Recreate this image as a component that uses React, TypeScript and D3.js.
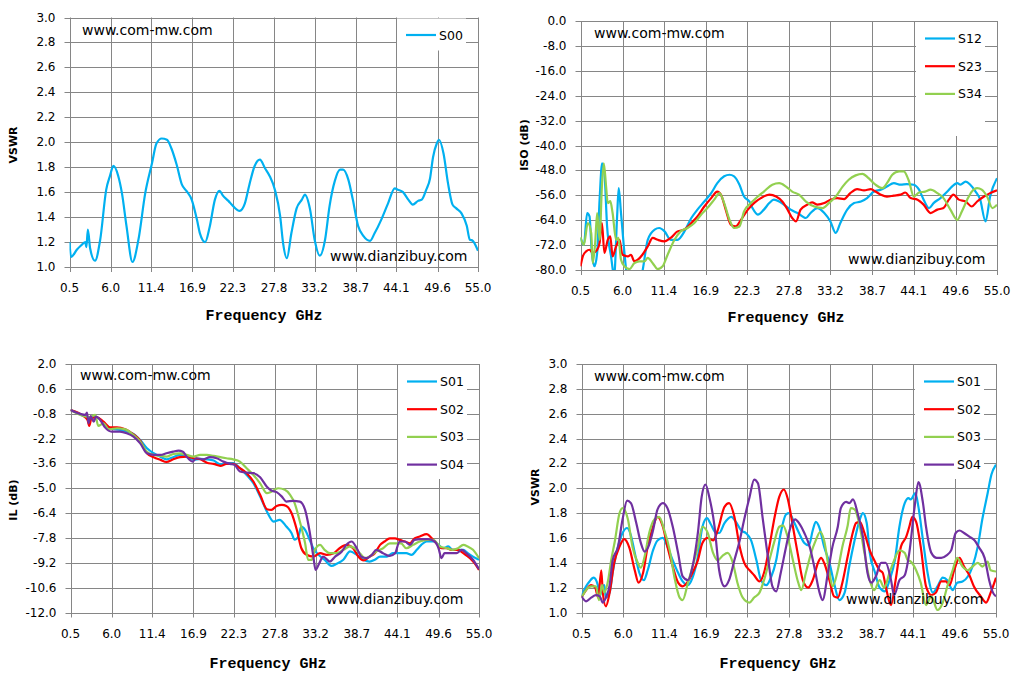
import React from "react";
import * as d3 from "d3";

type Pt = [number, number];

const FREQ_TICKS = ["0.5", "6.0", "11.4", "16.9", "22.3", "27.8", "33.2", "38.7", "44.1", "49.6", "55.0"];
const VSWR_TICKS = [1.0, 1.2, 1.4, 1.6, 1.8, 2.0, 2.2, 2.4, 2.6, 2.8, 3.0];
const ISO_TICKS = [-80, -72, -64, -56, -48, -40, -32, -24, -16, -8, 0];
const IL_TICKS = [-12.0, -10.6, -9.2, -7.8, -6.4, -5.0, -3.6, -2.2, -0.8, 0.6, 2.0];

const S00: Pt[] = [[0.5,1.2],[0.7,1.08],[1.5,1.14],[2.0,1.17],[2.6,1.2],[2.75,1.16],[2.95,1.3],[3.25,1.15],[3.9,1.05],[4.6,1.22],[5.4,1.62],[5.9,1.73],[6.36,1.81],[7.0,1.73],[7.5,1.59],[8.1,1.33],[8.9,1.04],[9.7,1.22],[10.6,1.59],[11.5,1.83],[12.1,1.99],[12.8,2.03],[13.5,2.02],[14.1,1.95],[14.8,1.82],[15.5,1.66],[16.1,1.61],[16.8,1.54],[17.5,1.38],[17.9,1.27],[18.6,1.2],[19.2,1.32],[19.9,1.54],[20.5,1.61],[21.0,1.57],[21.7,1.53],[22.3,1.49],[23.2,1.45],[23.9,1.51],[24.5,1.66],[25.2,1.81],[25.9,1.86],[26.6,1.79],[27.2,1.73],[27.9,1.62],[28.6,1.41],[29.0,1.19],[29.5,1.07],[30.1,1.27],[30.8,1.47],[31.5,1.54],[31.9,1.58],[32.6,1.46],[33.2,1.22],[33.9,1.09],[34.6,1.22],[35.2,1.49],[35.9,1.69],[36.6,1.78],[37.0,1.78],[37.7,1.7],[38.3,1.54],[39.0,1.33],[39.7,1.25],[40.6,1.21],[41.2,1.27],[42.1,1.38],[43.0,1.51],[43.9,1.63],[44.3,1.62],[45.0,1.6],[45.7,1.54],[46.3,1.5],[47.0,1.53],[47.5,1.54],[48.1,1.62],[48.6,1.71],[49.0,1.88],[49.5,1.99],[49.8,2.02],[50.4,1.91],[51.0,1.67],[51.6,1.5],[52.1,1.47],[52.8,1.43],[53.5,1.33],[53.9,1.22],[54.3,1.21],[55.0,1.13]];

const ISO_S12: Pt[] = [[0.5,-69.7],[0.94,-71.9],[1.37,-61.7],[1.68,-62.8],[1.98,-74.5],[2.33,-78.8],[2.68,-74.5],[3.0,-57.4],[3.33,-45.7],[3.63,-48.9],[3.98,-66],[4.5,-75.6],[4.9,-82],[5.29,-62.8],[5.5,-53.7],[5.8,-61.7],[6.25,-74.5],[6.6,-82],[7.5,-86],[8.3,-84],[8.64,-80],[9.3,-70.3],[10.2,-67],[10.8,-66.5],[11.5,-67.6],[12.3,-70.3],[13.2,-70.3],[14.1,-67.6],[15.0,-63.3],[15.8,-60.6],[16.7,-58],[17.6,-55.3],[18.4,-52.1],[19.3,-49.9],[20.0,-49.4],[20.6,-49.9],[21.3,-52.6],[21.9,-56.4],[22.6,-58],[23.0,-60.1],[23.7,-62.2],[24.5,-60.6],[25.2,-58.5],[25.8,-57.4],[26.5,-58],[27.1,-59],[28.0,-60.6],[28.9,-61.7],[30.0,-63.3],[30.6,-61.7],[31.5,-60.1],[32.4,-61.7],[33.2,-64.4],[33.9,-68.1],[34.5,-64.9],[35.4,-60.6],[36.3,-58.5],[37.2,-58],[38.0,-56.9],[38.9,-54.8],[39.8,-54.2],[40.6,-53.2],[41.5,-52.1],[42.4,-52.6],[43.2,-52.4],[44.1,-52.6],[44.8,-54.2],[45.4,-57.4],[46.1,-60.1],[46.7,-58.5],[47.6,-56.9],[48.5,-54.8],[49.1,-53.2],[49.8,-52.1],[50.2,-52.6],[50.9,-51.6],[51.5,-52.6],[52.2,-54.8],[52.8,-57.4],[53.5,-64.4],[54.1,-56.4],[55.0,-50.5]];

const ISO_S23: Pt[] = [[0.5,-78.8],[0.8,-75.6],[1.24,-74],[1.68,-73.5],[2.1,-74.5],[2.68,-73.5],[3.0,-71.3],[3.3,-64.9],[3.63,-74.5],[4.07,-70.3],[4.4,-69.2],[4.7,-75.6],[5.16,-72.4],[5.6,-70.3],[6.0,-75.1],[6.7,-75.6],[7.1,-75.1],[7.55,-77.2],[8.0,-76.7],[8.6,-75.1],[9.3,-72.4],[9.95,-69.7],[10.6,-70.3],[11.5,-70.8],[12.3,-69.7],[13.2,-67.6],[14.1,-67],[15.0,-64.9],[15.8,-62.8],[16.7,-59.6],[17.6,-56.9],[18.4,-54.8],[18.9,-55.9],[19.5,-60.6],[20.2,-65.5],[20.8,-66],[21.5,-63.9],[22.4,-60.6],[23.2,-58.5],[24.1,-56.9],[25.2,-55.8],[26.1,-56.4],[26.9,-58],[27.6,-60.6],[28.2,-63.3],[28.7,-64.4],[29.3,-60.6],[30.2,-59],[30.8,-58.3],[31.5,-59],[32.4,-58.5],[33.2,-57.4],[34.1,-56.9],[35.0,-57.2],[35.8,-55.3],[36.7,-54],[37.6,-54.4],[38.5,-54],[39.1,-54.8],[39.8,-55.8],[40.6,-56.4],[41.5,-56.1],[42.4,-55.8],[43.0,-55.1],[43.7,-56.9],[44.6,-57.4],[45.4,-59],[46.3,-61.7],[47.2,-60.6],[48.0,-60.1],[48.7,-57.4],[49.3,-55.8],[50.0,-57.4],[50.9,-58],[51.7,-59.6],[52.4,-58],[53.3,-56.4],[54.1,-55.3],[55.0,-54.4]];

const ISO_S34: Pt[] = [[0.5,-69.4],[0.94,-71.9],[1.46,-64.9],[1.9,-68.1],[2.1,-77.8],[2.42,-71.3],[2.68,-61.7],[3.0,-70.3],[3.3,-53.2],[3.55,-45.7],[3.85,-53.2],[4.07,-58.5],[4.4,-57.9],[4.7,-61.7],[5.16,-70.3],[5.46,-69.7],[5.8,-76.7],[6.25,-78.8],[6.9,-79.7],[7.55,-77.8],[8.2,-77.2],[8.86,-77.2],[9.3,-76.1],[9.95,-77.8],[10.6,-79.7],[11.25,-78.8],[11.9,-75.1],[12.8,-70.3],[13.6,-67.6],[14.5,-66.5],[15.4,-64.9],[16.3,-62.2],[17.1,-60.1],[18.0,-57.4],[18.7,-55.3],[19.3,-58.5],[20.0,-63.9],[20.6,-66.5],[21.3,-66],[21.9,-61.2],[22.8,-58.5],[23.7,-56.4],[24.5,-54.8],[25.6,-52.6],[26.5,-52.1],[27.4,-53.2],[28.2,-54.8],[29.1,-55.8],[30.0,-58],[31.1,-59.6],[32.2,-60.1],[33.0,-58.5],[33.9,-56.4],[34.8,-53.2],[35.6,-51],[36.5,-49.6],[37.4,-49.1],[38.2,-50.5],[39.1,-52.6],[40.0,-53.7],[40.6,-52.1],[41.3,-49.4],[42.2,-48.3],[42.8,-48.3],[43.5,-51.6],[44.1,-56.4],[44.8,-55.1],[45.6,-54.8],[46.3,-54.2],[47.2,-55.3],[48.0,-56.9],[48.9,-60.6],[49.8,-63.9],[50.4,-61.2],[51.1,-57.4],[51.7,-54.8],[52.4,-53.7],[53.0,-54.2],[53.7,-56.4],[54.4,-60.1],[55.0,-59]];

const IL_S01: Pt[] = [[0.5,-0.59],[1.34,-0.74],[2.23,-0.93],[3.1,-1.0],[4.0,-1.0],[4.9,-1.3],[5.8,-1.62],[7.1,-1.72],[8.0,-1.81],[8.9,-1.94],[9.8,-2.28],[10.7,-2.75],[11.6,-3.03],[12.5,-3.22],[13.3,-3.37],[14.2,-3.25],[15.1,-3.12],[16.0,-3.22],[16.9,-3.4],[17.8,-3.35],[18.7,-3.37],[19.6,-3.44],[20.5,-3.65],[21.3,-3.59],[22.2,-3.59],[23.1,-3.87],[24.0,-4.25],[24.9,-4.72],[25.8,-5.47],[26.7,-6.31],[27.6,-6.88],[28.4,-6.78],[29.3,-7.16],[30.0,-7.53],[30.4,-7.9],[30.9,-7.72],[31.3,-7.16],[31.8,-7.34],[32.4,-7.9],[32.9,-8.38],[33.6,-8.75],[34.4,-9.03],[35.3,-9.37],[36.0,-9.26],[36.9,-9.03],[37.8,-8.56],[38.7,-8.75],[39.6,-9.03],[40.4,-9.13],[41.1,-9.03],[41.8,-8.85],[42.7,-8.85],[43.5,-8.66],[44.4,-8.66],[45.3,-8.66],[46.0,-8.75],[46.7,-8.47],[47.3,-8.19],[48.0,-8.0],[48.9,-8.0],[49.6,-8.19],[50.2,-8.38],[50.9,-8.28],[51.5,-8.47],[52.2,-8.47],[52.9,-8.47],[53.5,-8.66],[54.2,-8.85],[55.0,-9.03]];

const IL_S02: Pt[] = [[0.5,-0.59],[2.23,-0.93],[2.77,-1.15],[3.0,-1.49],[3.3,-1.06],[4.0,-1.0],[4.9,-1.25],[5.8,-1.57],[6.7,-1.57],[7.8,-1.68],[8.9,-1.96],[9.8,-2.32],[10.7,-3.03],[11.6,-3.25],[12.5,-3.4],[13.3,-3.52],[14.2,-3.37],[15.1,-3.25],[16.0,-3.22],[16.9,-3.31],[17.8,-3.37],[18.7,-3.56],[19.6,-3.63],[20.5,-3.74],[21.3,-3.63],[22.2,-3.63],[23.1,-3.87],[24.0,-4.15],[24.9,-4.62],[25.8,-5.37],[26.7,-6.18],[27.3,-6.22],[28.0,-6.0],[28.7,-5.94],[29.3,-6.0],[30.0,-6.41],[30.7,-7.35],[31.3,-8.38],[32.0,-8.75],[32.9,-8.85],[33.8,-8.66],[34.7,-8.75],[35.6,-8.66],[36.4,-8.38],[37.3,-8.19],[38.2,-8.38],[38.9,-8.85],[39.6,-9.07],[40.4,-8.85],[41.1,-8.66],[41.8,-8.19],[42.4,-8.0],[43.1,-7.82],[43.8,-7.82],[44.4,-7.91],[45.1,-8.0],[45.8,-8.1],[46.4,-7.82],[47.1,-7.72],[48.0,-7.59],[48.7,-7.82],[49.3,-8.1],[50.0,-8.38],[50.7,-8.38],[51.3,-8.47],[52.2,-8.47],[52.9,-8.66],[53.8,-8.94],[54.4,-9.22],[55.0,-9.6]];

const IL_S03: Pt[] = [[0.5,-0.59],[2.23,-0.93],[3.1,-1.0],[3.8,-0.86],[4.2,-1.49],[4.9,-1.34],[5.6,-1.68],[6.7,-1.62],[7.8,-1.68],[8.9,-2.0],[9.8,-2.37],[10.7,-2.94],[11.6,-3.12],[12.5,-3.18],[13.3,-3.22],[14.2,-3.07],[15.1,-3.03],[16.0,-3.12],[16.9,-3.22],[17.8,-3.12],[18.7,-3.12],[19.6,-3.18],[20.5,-3.25],[21.3,-3.31],[22.2,-3.37],[23.1,-3.5],[24.0,-3.87],[24.9,-4.25],[25.8,-4.72],[26.7,-5.28],[27.3,-5.19],[28.2,-5.0],[29.1,-5.09],[29.8,-5.37],[30.4,-5.84],[31.1,-6.87],[31.8,-8.1],[32.2,-9.03],[32.7,-9.03],[33.1,-8.47],[33.8,-8.19],[34.4,-8.47],[35.1,-8.66],[36.0,-8.66],[36.9,-8.47],[37.8,-8.28],[38.4,-8.38],[39.1,-8.66],[39.8,-8.94],[40.4,-8.85],[41.3,-8.56],[42.2,-8.38],[43.1,-8.1],[44.0,-8.1],[44.6,-8.1],[45.3,-8.38],[46.2,-8.19],[47.1,-8.0],[48.0,-7.91],[48.9,-7.91],[49.8,-8.28],[50.7,-8.38],[51.5,-8.47],[52.2,-8.38],[52.9,-8.19],[53.5,-8.28],[54.2,-8.47],[55.0,-8.94]];

const IL_S04: Pt[] = [[0.5,-0.59],[1.8,-0.81],[2.5,-0.87],[2.7,-0.74],[2.9,-1.34],[3.2,-0.93],[3.6,-1.25],[3.9,-0.96],[4.45,-1.15],[5.1,-1.57],[6.0,-1.81],[7.1,-1.81],[8.0,-1.9],[8.9,-2.09],[9.8,-2.47],[10.7,-3.03],[11.6,-3.12],[12.5,-3.12],[13.3,-3.03],[14.2,-2.94],[14.9,-2.88],[15.5,-2.94],[16.0,-3.22],[16.8,-3.5],[17.3,-3.31],[18.2,-3.37],[19.1,-3.25],[20.0,-3.31],[20.9,-3.5],[21.8,-3.63],[22.4,-3.69],[23.1,-4.06],[24.0,-4.12],[24.9,-4.15],[25.8,-4.38],[26.7,-4.91],[27.3,-5.13],[28.0,-5.22],[28.7,-5.47],[29.3,-5.75],[30.2,-5.71],[31.1,-5.75],[31.8,-6.22],[32.4,-7.44],[32.9,-8.85],[33.2,-9.6],[33.7,-9.22],[34.2,-8.85],[35.1,-9.13],[35.8,-8.85],[36.7,-8.56],[37.3,-8.19],[38.0,-8.0],[38.7,-8.38],[39.3,-8.85],[40.0,-8.94],[40.7,-8.75],[41.3,-8.47],[42.2,-8.66],[43.1,-8.81],[43.8,-8.66],[44.4,-8.0],[45.1,-8.0],[45.8,-8.19],[46.4,-7.91],[47.3,-7.87],[48.2,-7.87],[49.1,-8.0],[49.6,-8.38],[50.0,-8.94],[50.4,-8.66],[51.1,-8.66],[52.0,-8.66],[52.7,-8.47],[53.3,-8.66],[54.2,-9.03],[55.0,-9.56]];

const VSWR_S01: Pt[] = [[0.5,1.13],[1.1,1.21],[1.55,1.25],[2.1,1.28],[2.65,1.22],[2.9,1.13],[3.2,1.2],[3.5,1.22],[3.7,1.12],[4.2,1.16],[4.6,1.32],[5.3,1.53],[5.9,1.64],[6.5,1.68],[7.0,1.62],[7.5,1.48],[8.1,1.32],[8.7,1.26],[9.2,1.34],[9.9,1.5],[10.5,1.58],[11.2,1.6],[11.8,1.53],[12.5,1.42],[13.2,1.32],[13.8,1.25],[14.5,1.22],[15.1,1.28],[15.8,1.45],[16.4,1.69],[17.0,1.76],[17.5,1.71],[18.2,1.64],[18.6,1.64],[19.3,1.72],[20.2,1.77],[20.8,1.73],[21.5,1.66],[22.1,1.64],[22.8,1.58],[23.5,1.42],[24.1,1.26],[24.8,1.22],[25.4,1.28],[26.1,1.42],[26.7,1.64],[27.4,1.79],[27.8,1.8],[28.5,1.72],[29.1,1.64],[29.8,1.56],[30.4,1.54],[30.9,1.66],[31.3,1.73],[31.8,1.68],[32.4,1.53],[33.1,1.4],[33.7,1.24],[34.4,1.1],[35.1,1.16],[35.7,1.37],[36.4,1.58],[37.1,1.75],[37.5,1.8],[38.0,1.72],[38.4,1.48],[39.1,1.32],[39.7,1.2],[40.4,1.17],[41.0,1.26],[41.7,1.42],[42.3,1.69],[43.0,1.88],[43.5,1.92],[43.8,1.91],[44.4,1.96],[44.8,1.85],[45.4,1.58],[46.0,1.32],[46.7,1.16],[47.3,1.21],[48.0,1.28],[48.6,1.26],[49.3,1.18],[49.9,1.24],[50.6,1.25],[51.3,1.29],[51.9,1.37],[52.6,1.53],[53.2,1.75],[53.9,1.96],[54.4,2.11],[55.0,2.19]];

const VSWR_S02: Pt[] = [[0.5,1.12],[1.1,1.18],[1.77,1.22],[2.3,1.2],[2.7,1.12],[3.1,1.34],[3.3,1.16],[3.7,1.05],[4.2,1.16],[4.8,1.4],[5.5,1.53],[6.1,1.59],[6.8,1.52],[7.5,1.34],[8.0,1.24],[8.6,1.32],[9.2,1.53],[9.9,1.69],[10.5,1.77],[11.2,1.69],[11.8,1.53],[12.5,1.37],[13.2,1.24],[13.8,1.21],[14.5,1.25],[15.1,1.32],[15.8,1.42],[16.4,1.56],[17.1,1.6],[17.8,1.58],[18.4,1.66],[19.3,1.85],[19.9,1.88],[20.6,1.77],[21.3,1.53],[21.9,1.4],[22.6,1.34],[23.2,1.3],[23.9,1.25],[24.5,1.32],[25.2,1.53],[25.9,1.77],[26.5,1.93],[27.1,1.99],[27.6,1.92],[28.3,1.69],[29.0,1.45],[29.6,1.26],[30.3,1.2],[30.9,1.26],[31.6,1.4],[32.0,1.44],[32.4,1.4],[33.1,1.26],[33.7,1.13],[34.2,1.12],[34.8,1.24],[35.5,1.45],[36.2,1.65],[36.6,1.72],[37.1,1.73],[37.7,1.64],[38.4,1.5],[39.0,1.42],[39.7,1.34],[40.1,1.32],[40.5,1.21],[41.2,1.06],[41.8,1.26],[42.5,1.53],[43.2,1.61],[43.6,1.69],[44.0,1.77],[44.5,1.73],[45.1,1.53],[45.8,1.21],[46.5,1.14],[47.1,1.16],[47.8,1.25],[48.4,1.25],[48.9,1.22],[49.5,1.34],[50.2,1.44],[50.8,1.37],[51.5,1.3],[52.1,1.21],[53.0,1.13],[53.7,1.08],[54.3,1.16],[55.0,1.28]];

const VSWR_S03: Pt[] = [[0.5,1.12],[1.1,1.18],[1.77,1.21],[2.4,1.21],[2.8,1.1],[3.2,1.22],[3.5,1.16],[4.0,1.26],[4.4,1.42],[4.9,1.58],[5.5,1.8],[5.9,1.84],[6.6,1.75],[7.2,1.53],[7.9,1.4],[8.3,1.36],[8.8,1.45],[9.4,1.64],[10.1,1.75],[10.7,1.77],[11.4,1.66],[12.1,1.5],[12.7,1.29],[13.4,1.12],[13.8,1.1],[14.5,1.24],[15.1,1.37],[15.8,1.53],[16.4,1.69],[17.1,1.64],[17.8,1.48],[18.4,1.42],[19.1,1.46],[19.7,1.48],[20.4,1.4],[21.0,1.24],[21.7,1.12],[22.6,1.08],[23.2,1.12],[23.9,1.16],[24.5,1.26],[25.2,1.42],[25.9,1.58],[26.5,1.69],[27.0,1.7],[27.6,1.61],[28.3,1.42],[29.0,1.24],[29.4,1.18],[30.0,1.32],[30.7,1.48],[31.3,1.58],[31.9,1.65],[32.4,1.58],[33.1,1.32],[33.5,1.21],[34.2,1.34],[34.8,1.53],[35.5,1.7],[35.9,1.84],[36.4,1.83],[37.0,1.72],[37.7,1.48],[38.4,1.26],[39.0,1.18],[39.7,1.26],[40.3,1.2],[41.0,1.32],[41.6,1.42],[42.3,1.5],[43.0,1.48],[43.4,1.42],[43.8,1.41],[44.5,1.34],[45.1,1.24],[45.8,1.06],[46.5,1.13],[47.3,1.02],[48.0,1.08],[48.6,1.21],[49.3,1.34],[49.9,1.44],[50.6,1.37],[51.3,1.34],[51.9,1.37],[52.6,1.4],[53.2,1.37],[53.9,1.41],[54.3,1.34],[55.0,1.33]];

const VSWR_S04: Pt[] = [[0.5,1.13],[1.1,1.09],[1.77,1.12],[2.4,1.14],[2.9,1.13],[3.3,1.08],[3.7,1.12],[4.2,1.22],[4.6,1.42],[5.3,1.53],[5.9,1.75],[6.5,1.9],[7.0,1.88],[7.7,1.72],[8.3,1.56],[8.8,1.49],[9.3,1.53],[9.9,1.66],[10.5,1.83],[11.2,1.88],[11.8,1.84],[12.5,1.69],[13.2,1.48],[13.8,1.29],[14.5,1.26],[15.1,1.37],[15.8,1.64],[16.3,1.93],[16.8,2.03],[17.3,1.93],[18.0,1.69],[18.6,1.34],[19.3,1.21],[19.9,1.26],[20.6,1.42],[21.3,1.58],[21.9,1.75],[22.6,1.93],[23.2,2.07],[23.7,2.04],[24.3,1.77],[25.0,1.45],[25.6,1.21],[26.1,1.17],[26.7,1.32],[27.4,1.53],[28.0,1.69],[28.6,1.75],[29.1,1.72],[29.8,1.64],[30.5,1.53],[31.1,1.37],[31.8,1.16],[32.2,1.1],[32.9,1.32],[33.5,1.53],[34.2,1.69],[34.6,1.84],[35.3,1.89],[35.7,1.88],[36.2,1.91],[36.8,1.8],[37.5,1.61],[38.1,1.32],[38.6,1.24],[39.2,1.29],[39.9,1.4],[40.5,1.4],[41.2,1.26],[41.6,1.14],[42.3,1.26],[43.0,1.3],[43.6,1.48],[44.3,1.85],[44.8,2.05],[45.4,1.88],[45.8,1.69],[46.5,1.48],[47.2,1.44],[47.8,1.44],[48.5,1.46],[49.1,1.5],[49.7,1.64],[50.2,1.66],[50.8,1.64],[51.5,1.61],[52.2,1.58],[52.8,1.52],[53.5,1.44],[54.1,1.26],[54.6,1.16],[55.0,1.13]];

const BLUE = "#00B0F0";
const RED = "#FF0000";
const GREEN = "#92D050";
const PURPLE = "#7030A0";
const GRID = "#868686";

type Series = { name: string; color: string; data: Pt[] };
type PanelProps = {
  id: string;
  left: number; top: number; right: number; bottom: number;
  yTicks: number[]; yFmt: (v: number) => string;
  yLabel: string; yLabelX: number; yLabelY: number;
  xTitleX: number; xTitleY: number;
  series: Series[];
  wm1: [number, number]; wm2: [number, number];
};

function Panel(p: PanelProps) {
  const x = d3.scaleLinear().domain([0.5, 55.0]).range([p.left, p.right]);
  const yMin = d3.min(p.yTicks) as number;
  const yMax = d3.max(p.yTicks) as number;
  const y = d3.scaleLinear().domain([yMin, yMax]).range([p.bottom, p.top]);
  const xTickVals = FREQ_TICKS.map((t) => parseFloat(t));
  const line = d3.line<Pt>().x((d) => x(d[0])).y((d) => y(d[1])).curve(d3.curveMonotoneX);
  const boxX = p.right - 81;
  const boxW = 69;
  const boxH = p.series.length === 1 ? 32 : 114;
  const font = "'DejaVu Sans', Verdana, sans-serif";
  return (
    <g>
      <defs>
        <clipPath id={p.id}>
          <rect x={p.left} y={p.top} width={p.right - p.left} height={p.bottom - p.top} />
        </clipPath>
      </defs>
      {p.yTicks.map((t, i) => (
        <line key={"h" + i} x1={p.left - 5} x2={p.right} y1={Math.round(y(t)) + 0.5} y2={Math.round(y(t)) + 0.5} stroke={GRID} strokeWidth={1} />
      ))}
      {xTickVals.map((t, i) => (
        <line key={"v" + i} x1={Math.round(x(t)) + 0.5} x2={Math.round(x(t)) + 0.5} y1={p.top} y2={p.bottom + 5} stroke={GRID} strokeWidth={1} />
      ))}
      {p.yTicks.map((t, i) => (
        <text key={"yl" + i} x={p.left - 14} y={y(t)} textAnchor="end" dominantBaseline="central" fontFamily={font} fontSize={12} fill="#000">
          {p.yFmt(t)}
        </text>
      ))}
      {FREQ_TICKS.map((t, i) => (
        <text key={"xl" + i} x={x(xTickVals[i])} y={p.bottom + 21} textAnchor="middle" dominantBaseline="central" fontFamily={font} fontSize={12} fill="#000">
          {t}
        </text>
      ))}
      <text x={p.wm1[0]} y={p.wm1[1]} fontFamily={font} fontSize={14} fill="#000">www.com-mw.com</text>
      <g clipPath={`url(#${p.id})`}>
        {p.series.map((s) => (
          <path key={s.name} d={line(s.data) || ""} fill="none" stroke={s.color} strokeWidth={2.2} strokeLinejoin="round" />
        ))}
      </g>
      <text x={p.wm2[0]} y={p.wm2[1]} fontFamily={font} fontSize={14} fill="#000">www.dianzibuy.com</text>
      <rect x={boxX} y={p.top + 1} width={boxW} height={boxH} fill="#fff" />
      {p.series.map((s, i) => {
        const ly = p.top + 17.5 + i * 27.7;
        return (
          <g key={"lg" + i}>
            <line x1={boxX + 9} x2={boxX + 39} y1={ly} y2={ly} stroke={s.color} strokeWidth={2.2} />
            <text x={boxX + 42} y={ly} dominantBaseline="central" fontFamily={font} fontSize={12.5} fill="#000">{s.name}</text>
          </g>
        );
      })}
      <text transform={`translate(${p.yLabelX},${p.yLabelY}) rotate(-90)`} textAnchor="middle" dominantBaseline="central" fontFamily={font} fontWeight="bold" fontSize={11} fill="#000">
        {p.yLabel}
      </text>
      <text x={p.xTitleX} y={p.xTitleY} textAnchor="middle" dominantBaseline="central" fontFamily="'Liberation Mono', 'Courier New', monospace" fontWeight="bold" fontSize={15} fill="#000">
        Frequency GHz
      </text>
    </g>
  );
}

export default function App() {
  const f1 = (v: number) => v.toFixed(1);
  return (
    <svg width={1022} height={678} style={{ position: "absolute", left: 0, top: 0, background: "#fff" }}>
      <rect x={0} y={0} width={1022} height={678} fill="#fff" />
      <Panel id="c1" left={69.5} top={17.5} right={478} bottom={267}
        yTicks={VSWR_TICKS} yFmt={f1} yLabel="VSWR" yLabelX={13} yLabelY={145}
        xTitleX={264} xTitleY={316}
        series={[{ name: "S00", color: BLUE, data: S00 }]}
        wm1={[82, 35]} wm2={[330, 261]} />
      <Panel id="c2" left={580.5} top={21} right={997} bottom={270}
        yTicks={ISO_TICKS} yFmt={f1} yLabel="ISO (dB)" yLabelX={524} yLabelY={145}
        xTitleX={786} xTitleY={318}
        series={[
          { name: "S12", color: BLUE, data: ISO_S12 },
          { name: "S23", color: RED, data: ISO_S23 },
          { name: "S34", color: GREEN, data: ISO_S34 },
        ]}
        wm1={[594, 38]} wm2={[848, 264]} />
      <Panel id="c3" left={70.5} top={364} right={479} bottom={612.5}
        yTicks={IL_TICKS} yFmt={f1} yLabel="IL (dB)" yLabelX={13} yLabelY={500}
        xTitleX={268} xTitleY={664}
        series={[
          { name: "S01", color: BLUE, data: IL_S01 },
          { name: "S02", color: RED, data: IL_S02 },
          { name: "S03", color: GREEN, data: IL_S03 },
          { name: "S04", color: PURPLE, data: IL_S04 },
        ]}
        wm1={[80, 380]} wm2={[326, 604]} />
      <Panel id="c4" left={581.5} top={364} right={996} bottom={612.5}
        yTicks={VSWR_TICKS} yFmt={f1} yLabel="VSWR" yLabelX={535} yLabelY={487}
        xTitleX={778} xTitleY={664}
        series={[
          { name: "S01", color: BLUE, data: VSWR_S01 },
          { name: "S02", color: RED, data: VSWR_S02 },
          { name: "S03", color: GREEN, data: VSWR_S03 },
          { name: "S04", color: PURPLE, data: VSWR_S04 },
        ]}
        wm1={[594, 381]} wm2={[846, 604]} />
    </svg>
  );
}
